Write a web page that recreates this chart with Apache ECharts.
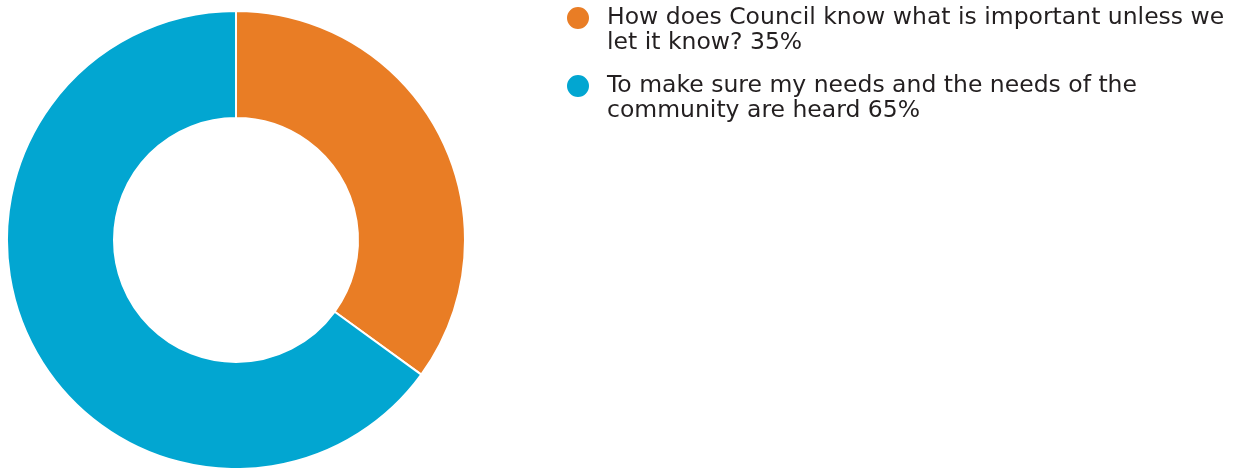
<!DOCTYPE html>
<html>
<head>
<meta charset="utf-8">
<script src="https://cdn.jsdelivr.net/npm/echarts@6/dist/echarts.min.js"></script>
<style>
  html, body { margin: 0; padding: 0; background: #fff; }
  #chart { width: 1241px; height: 468px; }
</style>
</head>
<body>
<div id="chart"></div>
<script>
// Survey answers and their shares (percent)
const categories = [
  'How does Council know what is important unless we let it know?',
  'To make sure my needs and the needs of the community are heard'
];
const values = [35, 65];
const colors = ['#E97D25', '#02A6D1'];

const chart = echarts.init(document.getElementById('chart'), null, { renderer: 'canvas' });

const data = categories.map((name, i) => ({
  name: name,
  value: values[i],
  itemStyle: { color: colors[i] }
}));

// One legend block per answer; a blank leading line keeps the marker
// level with the first line of the wrapped text.
const LINE = 25;
const markerCentres = [18, 86];
const legends = categories.map((name, i) => ({
  orient: 'vertical',
  left: 565,
  top: markerCentres[i] - LINE * 1.5,
  padding: 0,
  icon: 'circle',
  itemWidth: 48,
  itemHeight: 24,
  symbolKeepAspect: true,
  selectedMode: false,
  formatter: function (n) {
    const k = categories.indexOf(n);
    return '\n' + n + ' ' + values[k] + '%';
  },
  textStyle: {
    fontFamily: 'DejaVu Sans',
    fontSize: 23.5,
    lineHeight: LINE,
    color: '#231f20',
    width: 648,
    overflow: 'break'
  },
  data: [name]
}));

chart.setOption({
  animation: false,
  legend: legends,
  series: [{
    type: 'pie',
    center: [236, 240],
    radius: [122, 229],
    startAngle: 90,
    clockwise: true,
    label: { show: false },
    labelLine: { show: false },
    itemStyle: { borderColor: '#fff', borderWidth: 2 },
    data: data
  }]
});
</script>
</body>
</html>
